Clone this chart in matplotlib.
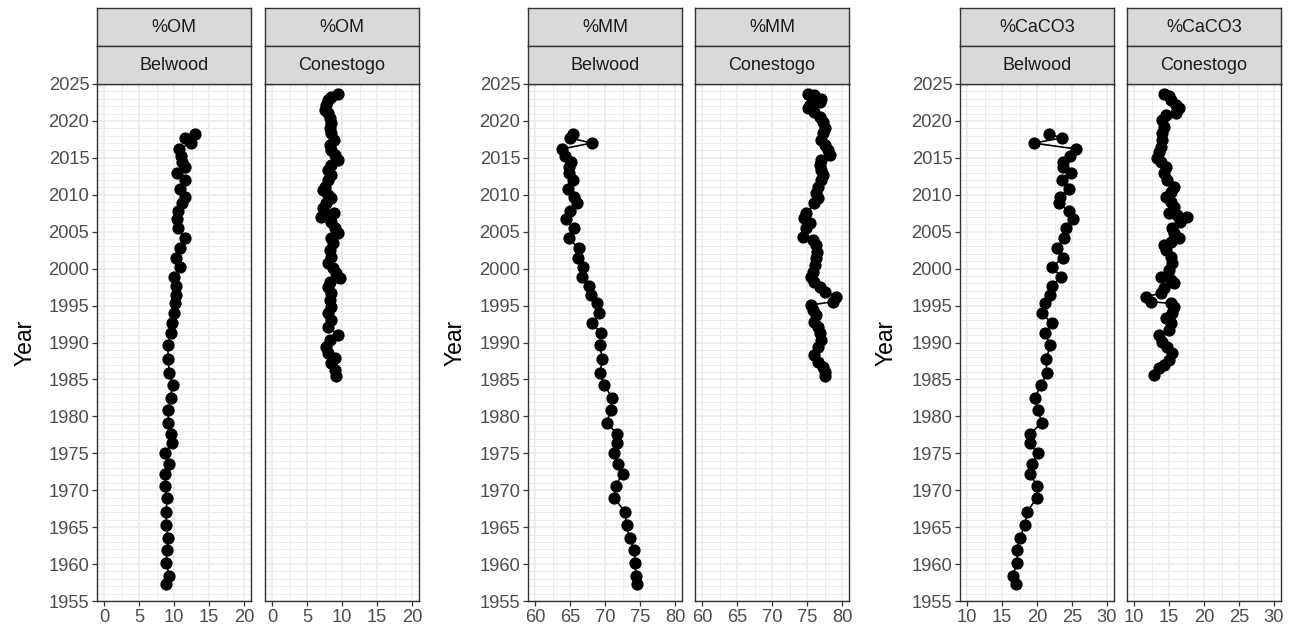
import matplotlib
matplotlib.use("Agg")
import matplotlib.pyplot as plt
from matplotlib.ticker import MultipleLocator

plt.rcParams['font.family'] = ['Liberation Sans', 'DejaVu Sans']

# ---- Belwood core (shared sample years) ----
belwood_year = [2018.2, 2017.7, 2017.0, 2016.2, 2015.3, 2014.5, 2013.7, 2012.9, 2012.0, 2010.8,
                2009.75, 2008.85, 2007.85, 2006.7, 2005.5, 2004.1, 2002.75, 2001.5, 2000.2, 1998.9,
                1997.65, 1996.4, 1995.3, 1994.0, 1992.6, 1991.25, 1989.6, 1987.7, 1985.9, 1984.3,
                1982.5, 1980.9, 1979.15, 1977.6, 1976.35, 1975.0, 1973.55, 1972.2, 1970.6, 1969.0,
                1967.1, 1965.3, 1963.5, 1961.9, 1960.2, 1958.4, 1957.3]
belwood_om = [13.0, 11.6, 12.4, 10.7, 11.0, 11.2, 11.6, 10.4, 11.5, 10.8,
              11.5, 11.1, 10.6, 10.4, 10.5, 11.5, 10.9, 10.3, 10.9, 10.0,
              10.3, 10.3, 10.1, 10.0, 9.7, 9.6, 9.1, 9.2, 9.3, 9.8,
              9.5, 9.2, 9.2, 9.6, 9.7, 8.7, 9.3, 8.7, 8.7, 9.0,
              8.9, 8.9, 9.2, 9.0, 8.9, 9.3, 8.9]
belwood_mm = [65.4, 65.0, 68.1, 63.8, 64.3, 65.2, 64.9, 64.9, 65.4, 64.7,
              65.5, 66.0, 65.05, 64.4, 65.5, 64.8, 66.3, 66.1, 66.9, 66.7,
              67.7, 68.0, 68.9, 69.2, 68.2, 69.4, 69.3, 69.6, 69.3, 69.9,
              71.0, 70.8, 70.3, 71.7, 71.7, 71.3, 71.8, 72.5, 71.5, 71.3,
              72.8, 73.1, 73.5, 74.2, 74.3, 74.4, 74.5]
belwood_caco3 = [21.7, 23.6, 19.5, 25.6, 24.7, 23.7, 23.7, 24.8, 23.6, 24.6,
                 23.3, 23.1, 24.5, 25.2, 24.1, 23.9, 22.8, 23.7, 22.2, 23.4,
                 22.2, 21.9, 21.2, 20.7, 22.1, 21.2, 21.9, 21.3, 21.4, 20.6,
                 19.7, 20.1, 20.7, 19.0, 18.95, 20.1, 19.3, 19.0, 20.0, 20.0,
                 18.6, 18.3, 17.5, 17.1, 17.2, 16.5, 17.0]

# ---- Conestogo core ----
conestogo_om_year = [2023.65, 2023.29, 2022.83, 2022.16, 2021.48, 2021.03, 2020.35, 2019.68, 2019.0, 2018.32,
                     2017.42, 2016.74, 2016.06, 2015.39, 2014.71, 2014.03, 2013.36, 2012.68, 2012.0, 2011.1,
                     2010.65, 2009.97, 2009.52, 2008.84, 2008.17, 2007.04, 2007.26, 2007.49, 2006.36, 2005.46,
                     2004.78, 2004.11, 2003.43, 2002.52, 2001.62, 2000.72, 2000.04, 1999.37, 1998.69, 1998.24,
                     1997.56, 1996.66, 1995.76, 1994.85, 1993.95, 1993.05, 1992.14, 1991.02, 1990.34, 1989.44,
                     1988.53, 1987.86, 1987.18, 1986.28, 1985.47]
conestogo_om = [9.42, 8.48, 8.0, 7.77, 7.53, 8.0, 8.24, 8.48, 8.24, 8.48,
                8.81, 8.24, 8.48, 8.95, 9.42, 8.48, 8.0, 8.48, 8.0, 7.53,
                7.3, 8.0, 8.48, 7.77, 7.3, 7.0, 8.0, 8.81, 8.48, 8.95,
                9.42, 8.48, 8.71, 8.24, 8.48, 8.0, 8.71, 9.19, 9.66, 8.24,
                8.0, 8.48, 8.24, 8.48, 8.0, 8.48, 8.0, 9.42, 8.24, 7.77,
                8.0, 8.95, 8.48, 8.95, 9.19]

conestogo_mm_year = [2023.65, 2023.51, 2022.92, 2022.61, 2022.16, 2021.71, 2021.25, 2020.58, 2019.9, 2019.0,
                     2018.32, 2017.42, 2016.74, 2016.06, 2015.39, 2014.71, 2014.03, 2013.36, 2012.68, 2012.0,
                     2011.1, 2010.2, 2009.52, 2008.84, 2007.49, 2006.81, 2006.13, 2005.46, 2004.33, 2003.88,
                     2003.2, 2002.3, 2001.4, 2000.5, 1999.59, 1998.92, 1998.24, 1997.56, 1996.88, 1996.2,
                     1995.53, 1995.08, 1994.4, 1993.72, 1992.82, 1992.14, 1991.24, 1990.34, 1989.44, 1988.31,
                     1987.41, 1986.73, 1986.05, 1985.47]
conestogo_mm = [75.1, 76.07, 77.0, 76.8, 75.36, 75.1, 76.07, 76.8, 77.26, 77.5,
                77.26, 77.0, 77.5, 77.98, 78.3, 77.0, 76.8, 77.0, 77.26, 77.0,
                76.55, 76.3, 76.55, 76.07, 74.88, 74.64, 75.36, 74.88, 74.4, 75.83,
                76.3, 76.4, 76.3, 76.2, 75.83, 75.6, 76.07, 76.8, 77.5, 79.17,
                78.7, 75.6, 75.83, 76.3, 76.07, 76.55, 76.8, 77.0, 76.55, 76.07,
                76.55, 77.26, 77.5, 77.6]

conestogo_caco3_year = [2023.65, 2023.38, 2022.83, 2022.16, 2021.71, 2021.03, 2020.8, 2020.13, 2019.22, 2018.32,
                        2017.42, 2016.52, 2015.84, 2014.94, 2014.48, 2013.81, 2012.9, 2012.0, 2011.1, 2010.42,
                        2009.75, 2009.07, 2008.39, 2007.49, 2007.27, 2007.04, 2006.36, 2005.46, 2004.78, 2004.11,
                        2003.65, 2003.2, 2002.52, 2001.62, 2000.72, 1999.82, 1998.92, 1998.46, 1998.01, 1997.34,
                        1996.66, 1996.2, 1995.53, 1995.3, 1994.85, 1993.95, 1993.27, 1992.6, 1991.69, 1991.02,
                        1990.12, 1989.44, 1988.53, 1987.63, 1986.95, 1986.5, 1985.6]
conestogo_caco3 = [14.29, 15.0, 15.23, 15.93, 16.4, 15.93, 14.52, 14.05, 14.29, 14.05,
                   14.05, 13.82, 13.6, 13.35, 13.82, 14.52, 14.29, 14.76, 15.7, 15.23,
                   14.52, 15.23, 15.7, 15.0, 16.2, 17.5, 16.6, 15.46, 15.7, 16.4,
                   15.23, 14.29, 14.52, 15.23, 15.46, 15.0, 13.82, 15.23, 15.7, 14.29,
                   13.82, 11.7, 12.4, 15.23, 15.7, 15.46, 14.52, 15.23, 15.0, 13.6,
                   14.05, 14.76, 15.46, 15.0, 14.29, 13.6, 12.88]

proxies = ["%OM", "%MM", "%CaCO3"]
sites = ["Belwood", "Conestogo"]
x_ranges = [(0, 20), (60, 80), (10, 30)]

series = {
    ("%OM", "Belwood"): (belwood_om, belwood_year),
    ("%OM", "Conestogo"): (conestogo_om, conestogo_om_year),
    ("%MM", "Belwood"): (belwood_mm, belwood_year),
    ("%MM", "Conestogo"): (conestogo_mm, conestogo_mm_year),
    ("%CaCO3", "Belwood"): (belwood_caco3, belwood_year),
    ("%CaCO3", "Conestogo"): (conestogo_caco3, conestogo_caco3_year),
}

W, H = 1293, 630
fig = plt.figure(figsize=(W / 100, H / 100), dpi=100)

panel_left = [[97, 265], [528, 695], [960, 1127]]
panel_w = 154
top, bottom = 84, 601
strip_h = 38
ylabel_x = [25, 455, 886]

border = '#333333'
grid_col = '#EBEBEB'


def px_axes(x0, y0, w, h):
    return fig.add_axes([x0 / W, (H - y0 - h) / H, w / W, h / H])


for g, proxy in enumerate(proxies):
    lo, hi = x_ranges[g]
    pad = (hi - lo) * 0.05
    for k, site in enumerate(sites):
        x0 = panel_left[g][k]
        ax = px_axes(x0, top, panel_w, bottom - top)
        xv, yv = series[(proxy, site)]
        ax.plot(xv, yv, '-', color='black', lw=1.2, zorder=3)
        ax.plot(xv, yv, 'o', color='black', ms=7.8, zorder=4)
        ax.set_xlim(lo - pad, hi + pad)
        ax.set_ylim(1955, 2025)
        ax.xaxis.set_major_locator(MultipleLocator(5))
        ax.xaxis.set_minor_locator(MultipleLocator(2.5))
        ax.yaxis.set_major_locator(MultipleLocator(5))
        ax.yaxis.set_minor_locator(MultipleLocator(1))
        ax.grid(True, which='major', color=grid_col, lw=1.2, zorder=0)
        ax.grid(True, which='minor', color=grid_col, lw=0.7, zorder=0)
        ax.set_axisbelow(True)
        for s in ax.spines.values():
            s.set_color(border)
            s.set_linewidth(1.0)
        ax.tick_params(which='major', length=3.5, width=0.9, color=border,
                       labelsize=13.2, labelcolor='#4D4D4D', pad=2)
        ax.tick_params(which='minor', length=0)
        if k == 1:
            ax.tick_params(axis='y', which='major', length=0, labelleft=False)
        else:
            fig.text(ylabel_x[g] / W, 1 - ((top + bottom) / 2) / H, "Year",
                     rotation=90, ha='center', va='center', fontsize=16.5, color='black')

        # facet strips: proxy on top, site below
        for j, lab in enumerate([proxy, site]):
            sax = px_axes(x0, top - strip_h * (2 - j), panel_w, strip_h)
            sax.set_facecolor('#D9D9D9')
            sax.set_xticks([])
            sax.set_yticks([])
            for s in sax.spines.values():
                s.set_color(border)
                s.set_linewidth(1.0)
            sax.text(0.5, 0.5, lab, ha='center', va='center', fontsize=13,
                     color='#1A1A1A', transform=sax.transAxes)

fig.savefig("out.png", dpi=100)
